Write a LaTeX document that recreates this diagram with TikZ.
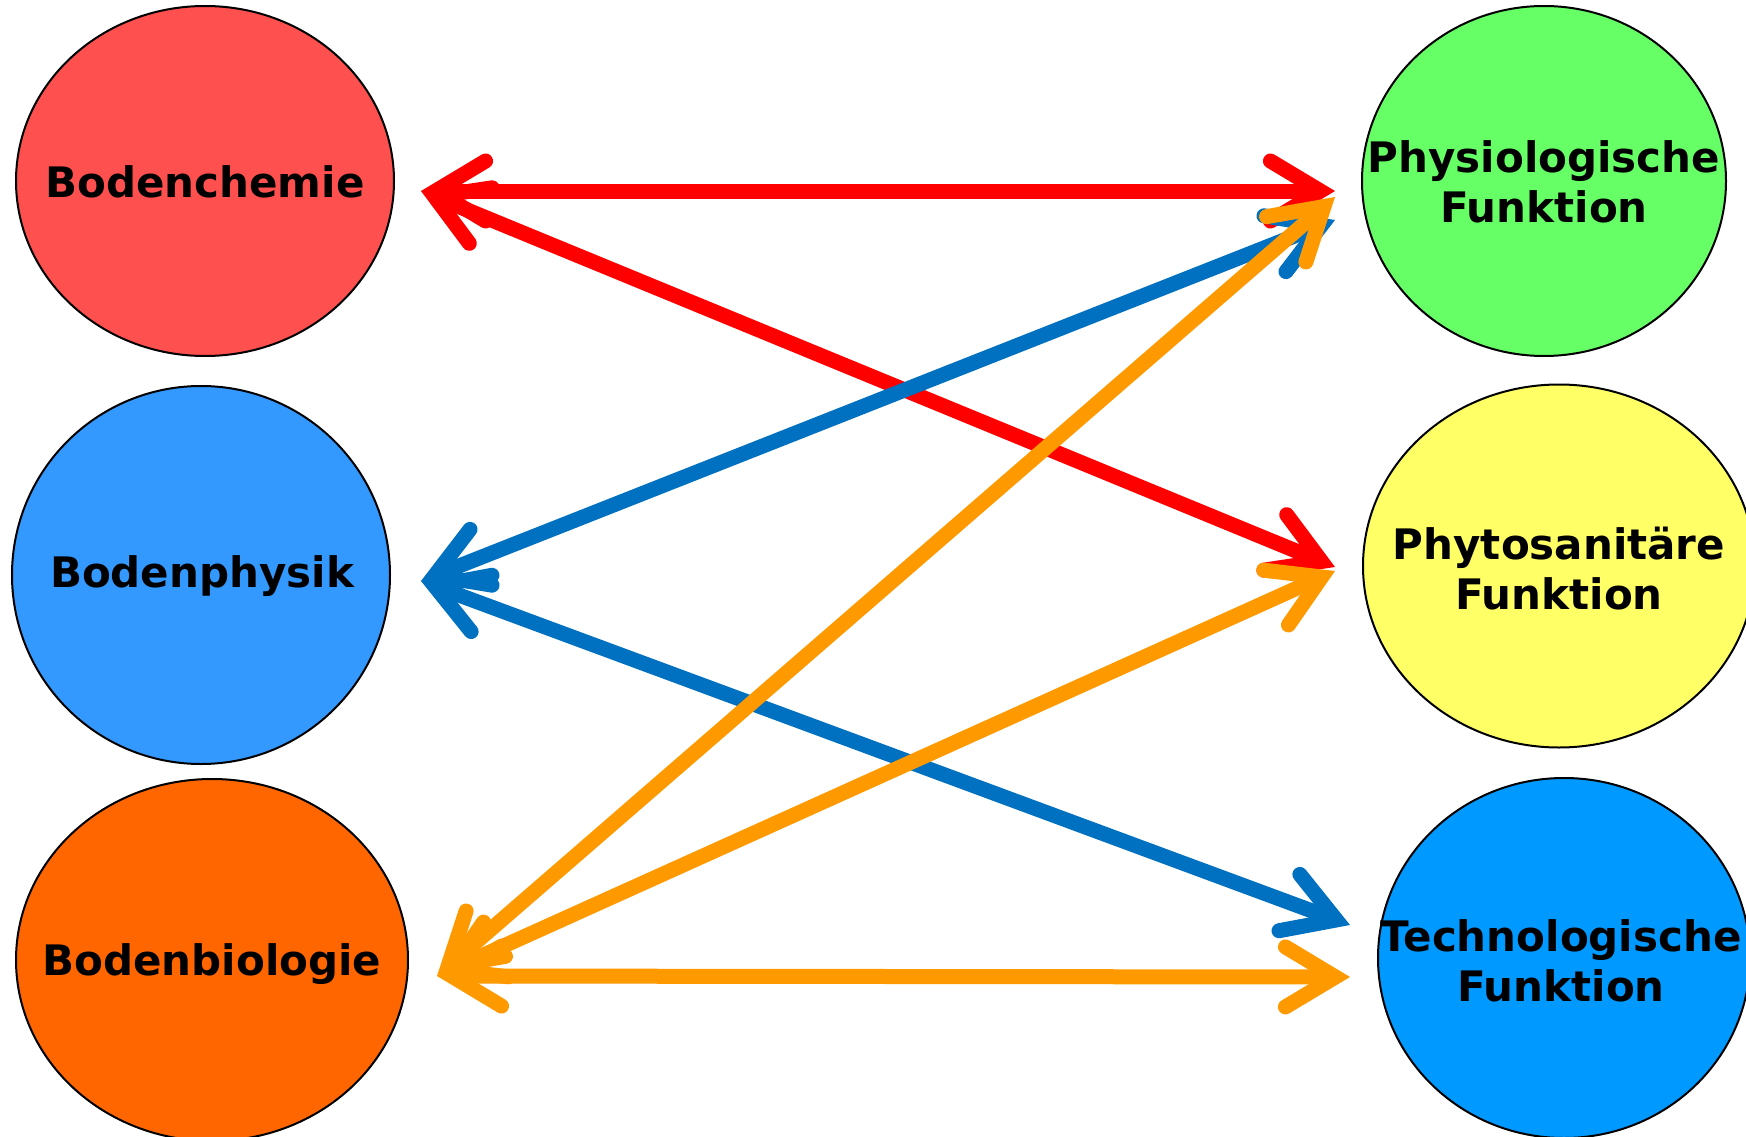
\documentclass[tikz,border=0pt]{standalone}
\usepackage{fontspec}
\setmainfont{DejaVu Sans}
\usetikzlibrary{shapes.geometric,arrows.meta}
\definecolor{chemfill}{HTML}{FF5050}
\definecolor{physfill}{HTML}{3399FF}
\definecolor{biofill}{HTML}{FF6600}
\definecolor{physiofill}{HTML}{66FF66}
\definecolor{phytofill}{HTML}{FFFF66}
\definecolor{techfill}{HTML}{0099FF}
\definecolor{redline}{HTML}{FF0000}
\definecolor{blueline}{HTML}{0070C0}
\definecolor{orangeline}{HTML}{FF9900}
\tikzset{
  soil/.style={ellipse,draw=black,line width=2pt,inner sep=0pt},
  lbl/.style={font=\fontsize{42}{50}\selectfont\bfseries,align=center,inner sep=0pt},
  conn/.style={line width=15pt,line cap=round,
    {Straight Barb[length=50pt,width=60pt,line cap=round,line join=miter]}-{Straight Barb[length=50pt,width=60pt,line cap=round,line join=miter]}}
}
\begin{document}
\begin{tikzpicture}[x=1pt,y=-1pt]
  \useasboundingbox (0,0) rectangle (1746,1137);
  % left: soil properties
  \node[soil,fill=chemfill,minimum width=378pt,minimum height=350pt] (chem) at (205,181) {};
  \node[soil,fill=physfill,minimum width=378pt,minimum height=378pt] (phys) at (201,575) {};
  \node[soil,fill=biofill,minimum width=392pt,minimum height=362pt] (bio) at (212,960) {};
  % right: functions
  \node[soil,fill=physiofill,minimum width=364pt,minimum height=350pt] (physio) at (1544,181) {};
  \node[soil,fill=phytofill,minimum width=392pt,minimum height=363pt] (phyto) at (1559,566) {};
  \node[soil,fill=techfill,minimum width=372pt,minimum height=360pt] (tech) at (1564,958) {};
  \node[lbl] (chemtxt) at (205,182) {Bodenchemie};
  \node[lbl] (phystxt) at (202,576) {Bodenphysik};
  \node[lbl] (biotxt) at (212,964) {Bodenbiologie};
  \node[lbl] (physiotxt) at (1544,182) {Physiologische\\Funktion};
  \node[lbl] (phytotxt) at (1559,569) {Phytosanitäre\\Funktion};
  \node[lbl] (techtxt) at (1561,961) {Technologische\\Funktion};
  % arrow ports
  \coordinate (chemport) at (421,191);
  \coordinate (physport) at (421,581);
  \coordinate (bioport) at (437,976);
  \coordinate (physioA) at (1335,191);
  \coordinate (physioB) at (1335,220);
  \coordinate (physioC) at (1335,197);
  \coordinate (phytoA) at (1335,567);
  \coordinate (phytoC) at (1335,571);
  \coordinate (techB) at (1350,925);
  \coordinate (techC) at (1350,977);
  \foreach \a/\b/\c in {
    chemport/physioA/redline, chemport/phytoA/redline,
    physport/physioB/blueline, physport/techB/blueline,
    bioport/physioC/orangeline, bioport/phytoC/orangeline, bioport/techC/orangeline}
  \draw[conn,draw=\c] (\a) -- (\b);
\end{tikzpicture}
\end{document}
